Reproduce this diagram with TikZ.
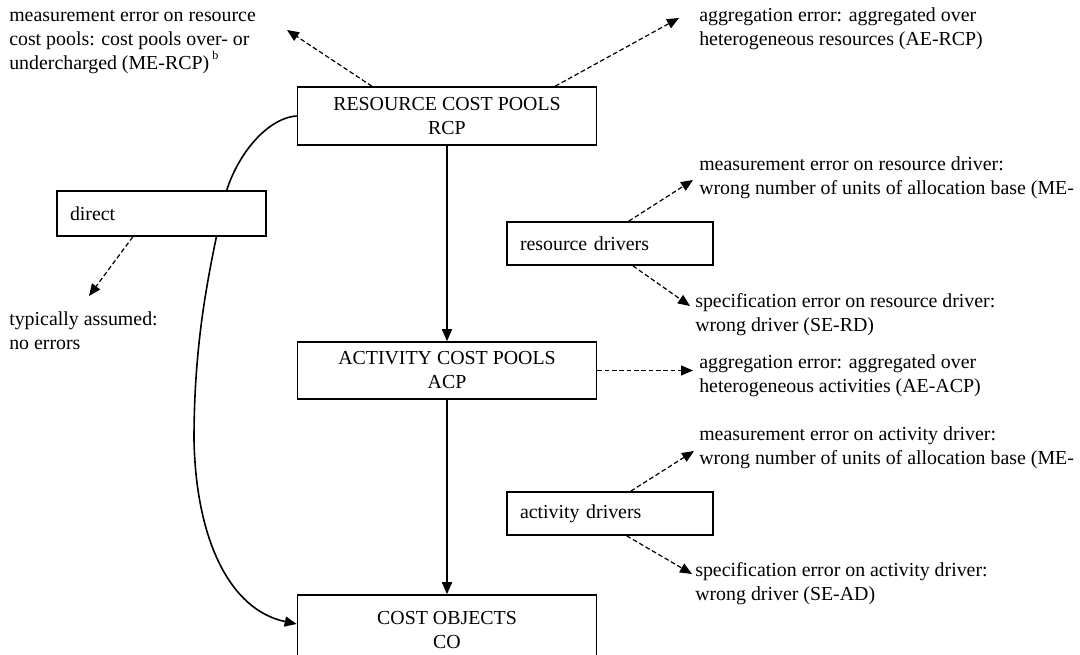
\documentclass[tikz,border=0pt]{standalone}
\usepackage{fontspec}
\setmainfont{Liberation Serif}
\usetikzlibrary{arrows.meta,calc}
\begin{document}
\begin{tikzpicture}[x=0.75pt,y=-0.75pt,
  every node/.style={font=\fontsize{14.9}{18}\selectfont, inner sep=0pt},
  box/.style={draw, line width=1.2pt, fill=white, align=center},
  lbox/.style={draw, line width=1.2pt, fill=white, align=left, inner xsep=9.75pt, inner ysep=0pt},
  txt/.style={align=left, anchor=west},
  mainarrow/.style={line width=1.2pt, -{Triangle[length=9pt,width=7.5pt]}},
  errarrow/.style={line width=0.9pt, dash pattern=on 3.5pt off 2pt, -{Triangle[length=9pt,width=7.5pt]}}
]
\useasboundingbox (0,0) rectangle (1080,655);

\node[box, minimum width=224.25pt, minimum height=43.5pt] (rcp) at (447,116) {RESOURCE COST POOLS\\RCP};
\node[box, minimum width=224.25pt, minimum height=42.75pt] (acp) at (447,370.5) {ACTIVITY COST POOLS\\ACP};
\node[box, minimum width=224.25pt, minimum height=52.5pt] (co) at (447,630) {COST OBJECTS\\CO};

\draw[mainarrow] (rcp.west) .. controls (266,118) and (234,158) .. (224,200) .. controls (212,260) and (194,330) .. (194,440) .. controls (196,540) and (230,610) .. ([yshift=4.5pt]co.west);

\node[lbox, text width=137.25pt, minimum height=33.75pt] (direct) at (161.5,213.5) {direct};
\node[lbox, text width=135pt, minimum height=32.25pt] (rd) at (610,243.5) {resource drivers};
\node[lbox, text width=135pt, minimum height=32.25pt] (ad) at (610,513.5) {activity drivers};

\draw[mainarrow] (rcp.south) -- (acp.north);
\draw[mainarrow] (acp.south) -- (co.north);

\coordinate (e1) at (287,30);
\coordinate (e2) at (679,18);
\coordinate (e3) at (89,296);
\coordinate (e4) at (693,180);
\coordinate (e5) at (690,306);
\coordinate (e6) at (693,370.5);
\coordinate (e7) at (694,451);
\coordinate (e8) at (692,574);

\draw[errarrow] ($(rcp.north west)!0.25!(rcp.north east)$) -- (e1);
\draw[errarrow] ($(rcp.north west)!0.86!(rcp.north east)$) -- (e2);
\draw[errarrow] ($(direct.south west)!0.364!(direct.south east)$) -- (e3);
\draw[errarrow] ($(rd.north west)!0.59!(rd.north east)$) -- (e4);
\draw[errarrow] ($(rd.south west)!0.61!(rd.south east)$) -- (e5);
\draw[errarrow] (acp.east) -- (e6);
\draw[errarrow] ($(ad.north west)!0.6!(ad.north east)$) -- (e7);
\draw[errarrow] ($(ad.south west)!0.58!(ad.south east)$) -- (e8);

\node[txt] (t1) at (9,42) {measurement error on resource\\cost pools: cost pools over- or\\undercharged (ME-RCP)\,\raisebox{0.5em}{\fontsize{9}{9}\selectfont b}};
\node[txt] (t2) at (699,29) {aggregation error: aggregated over\\heterogeneous resources (AE-RCP)};
\node[txt] (t3) at (9,331) {typically assumed:\\no errors};
\node[txt] (t4) at (699,178) {measurement error on resource driver:\\wrong number of units of allocation base (ME-};
\node[txt] (t5) at (695,315) {specification error on resource driver:\\wrong driver (SE-RD)};
\node[txt] (t6) at (699,376) {aggregation error: aggregated over\\heterogeneous activities (AE-ACP)};
\node[txt] (t7) at (699,448) {measurement error on activity driver:\\wrong number of units of allocation base (ME-};
\node[txt] (t8) at (695,584) {specification error on activity driver:\\wrong driver (SE-AD)};
\end{tikzpicture}
\end{document}
